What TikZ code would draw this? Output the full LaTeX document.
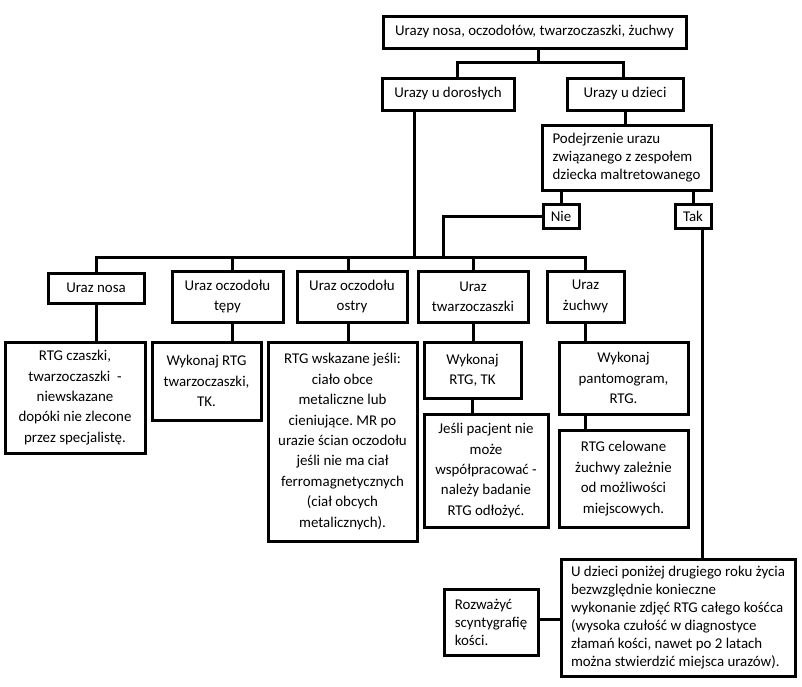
\documentclass[tikz,border=0pt]{standalone}
\usepackage{fontspec}
\setmainfont{Carlito}
\frenchspacing
\begin{document}
\begin{tikzpicture}[x=1pt,y=-1pt,
  bx/.style={draw, line width=3pt, inner sep=0pt, align=center, font=\fontsize{14.9}{20.4}\selectfont},
  bxl/.style={bx, align=left, font=\fontsize{14.9}{17.9}\selectfont},
  wire/.style={line width=3pt}]
\fill[white] (0,0) rectangle (802,686);
\useasboundingbox (0,0) rectangle (802,686);

\node[bx, minimum width=303, minimum height=32] (top) at (534.5,32) {Urazy nosa, oczodołów, twarzoczaszki, żuchwy};
\node[bx, minimum width=132, minimum height=32] (adult) at (448,94) {Urazy u dorosłych};
\node[bx, minimum width=116, minimum height=32] (kids) at (625,94) {Urazy u dzieci};
\node[bxl, minimum width=169, minimum height=65] (susp) at (626.5,157.5) {Podejrzenie urazu\\związanego z zespołem\\dziecka maltretowanego};
\node[bx, minimum width=36, minimum height=24] (nie) at (561,216) {Nie};
\node[bx, minimum width=36, minimum height=24] (tak) at (693,216) {Tak};

\node[bx, minimum width=96, minimum height=30] (nosa) at (96,288) {Uraz nosa};
\node[bx, minimum width=111, minimum height=51] (tepy) at (227.5,296.5) {Uraz oczodołu\\tępy};
\node[bx, minimum width=110, minimum height=51] (ostry) at (352,296.5) {Uraz oczodołu\\ostry};
\node[bx, minimum width=110, minimum height=51] (twarz) at (473,296.5) {Uraz\\twarzoczaszki};
\node[bx, minimum width=77, minimum height=51] (zuch) at (585.5,296.5) {Uraz\\żuchwy};

\node[bx, minimum width=140, minimum height=111] (n1) at (75,397.5) {RTG czaszki,\\twarzoczaszki\ \ -\\niewskazane\\dopóki nie zlecone\\przez specjalistę.};
\node[bx, minimum width=109, minimum height=78] (t1) at (206.5,381) {Wykonaj RTG\\twarzoczaszki,\\TK.};
\node[bx, minimum width=149, minimum height=199] (o1) at (342.5,441.5) {RTG wskazane jeśli:\\ciało obce\\metaliczne lub\\cieniujące. MR po\\urazie ścian oczodołu\\jeśli nie ma ciał\\ferromagnetycznych\\(ciał obcych\\metalicznych).};
\node[bx, minimum width=97, minimum height=56] (tw1) at (472.5,370) {Wykonaj\\RTG, TK};
\node[bx, minimum width=124, minimum height=113] (tw2) at (486,470.5) {Jeśli pacjent nie\\może\\współpracować -\\należy badanie\\RTG odłożyć.};
\node[bx, minimum width=129, minimum height=72] (z1) at (623.5,378) {Wykonaj\\pantomogram,\\RTG.};
\node[bx, minimum width=129, minimum height=97] (z2) at (623.5,478.5) {RTG celowane\\żuchwy zależnie\\od możliwości\\miejscowych.};
\node[bxl, minimum width=234, minimum height=117] (big) at (678,617.5) {U dzieci poniżej drugiego roku życia\\bezwzględnie konieczne\\wykonanie zdjęć RTG całego kośćca\\(wysoka czułość w diagnostyce\\złamań kości, nawet po 2 latach\\można stwierdzić miejsca urazów).};
\node[bxl, minimum width=94, minimum height=66] (scint) at (491,622) {Rozważyć\\scyntygrafię\\kości.};

\coordinate (j1) at (538,62);
\coordinate (bus) at (0,257);
\coordinate (nx) at (443,0);

\draw[wire] (top.south -| j1) -- (j1);
\draw[wire] ([xshift=9pt]adult.north) |- (j1) -| ([xshift=-2pt]kids.north);
\draw[wire] (kids.south) -- (kids.south |- susp.north);
\draw[wire] (nie.north) -- (nie.north |- susp.south);
\draw[wire] (tak.north) -- (tak.north |- susp.south);
\draw[wire] (nie.west) -| (nx |- bus);
\draw[wire] ([xshift=-34pt]adult.south) -- ([xshift=-34pt]adult.south |- bus);
\draw[wire] (nosa.north) |- (zuch.north |- bus) -- (zuch.north);
\draw[wire] ([xshift=4.5pt]tepy.north) -- ([xshift=4.5pt]tepy.north |- bus);
\draw[wire] ([xshift=-4pt]ostry.north) -- ([xshift=-4pt]ostry.north |- bus);
\draw[wire] (twarz.north) -- (twarz.north |- bus);
\draw[wire] (nosa.south) -- (nosa.south |- n1.north);
\draw[wire] ([xshift=4.5pt]tepy.south) -- ([xshift=4.5pt]tepy.south |- t1.north);
\draw[wire] ([xshift=-4pt]ostry.south) -- ([xshift=-4pt]ostry.south |- o1.north);
\draw[wire] (twarz.south) -- (twarz.south |- tw1.north);
\draw[wire] (tw1.south) -- (tw1.south |- tw2.north);
\draw[wire] (zuch.south) -- (zuch.south |- z1.north);
\draw[wire] (zuch.south |- z1.south) -- (zuch.south |- z2.north);
\draw[wire] ([xshift=9.5pt]tak.south) -- ([xshift=9.5pt]tak.south |- big.north);
\draw[wire] ([yshift=3pt]scint.east) -- ([yshift=3pt]scint.east -| big.west);
\end{tikzpicture}
\end{document}
